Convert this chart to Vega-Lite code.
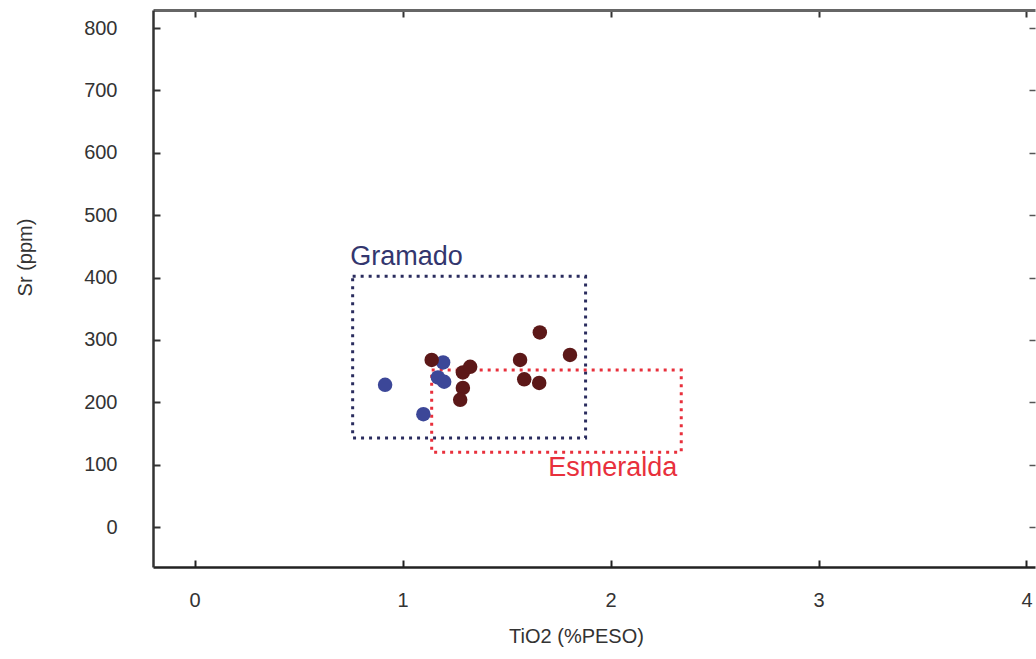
{
  "$schema": "https://vega.github.io/schema/vega-lite/v6.json",
  "autosize": "none",
  "padding": {"left": 153, "top": 10, "right": 1, "bottom": 92},
  "width": 882,
  "height": 557,
  "background": "#ffffff",
  "config": {
    "view": {"stroke": null},
    "font": "Liberation Sans",
    "axis": {"grid": false, "labelFont": "Liberation Sans", "titleFont": "Liberation Sans", "labelColor": "#333333", "titleColor": "#333333", "titleFontWeight": "normal", "labelFontSize": 20, "titleFontSize": 20}
  },
  "datasets": {
    "boxes": [
      {"grupo": "Gramado", "x1": 0.76, "x2": 1.88, "y1": 143, "y2": 402},
      {"grupo": "Esmeralda", "x1": 1.14, "x2": 2.34, "y1": 120, "y2": 252}
    ],
    "points": [
      {"serie": "Série 1", "TiO2": 0.916, "Sr": 228},
      {"serie": "Série 1", "TiO2": 1.10, "Sr": 181},
      {"serie": "Série 1", "TiO2": 1.17, "Sr": 240},
      {"serie": "Série 1", "TiO2": 1.20, "Sr": 233},
      {"serie": "Série 1", "TiO2": 1.195, "Sr": 264},
      {"serie": "Série 2", "TiO2": 1.14, "Sr": 268},
      {"serie": "Série 2", "TiO2": 1.29, "Sr": 248},
      {"serie": "Série 2", "TiO2": 1.325, "Sr": 257},
      {"serie": "Série 2", "TiO2": 1.29, "Sr": 223},
      {"serie": "Série 2", "TiO2": 1.277, "Sr": 204},
      {"serie": "Série 2", "TiO2": 1.66, "Sr": 312},
      {"serie": "Série 2", "TiO2": 1.805, "Sr": 276},
      {"serie": "Série 2", "TiO2": 1.565, "Sr": 268},
      {"serie": "Série 2", "TiO2": 1.585, "Sr": 237},
      {"serie": "Série 2", "TiO2": 1.657, "Sr": 231}
    ],
    "labels": [
      {"grupo": "Gramado", "x": 0.748, "y": 420},
      {"grupo": "Esmeralda", "x": 1.70, "y": 82}
    ]
  },
  "resolve": {"axis": {"x": "independent", "y": "independent"}},
  "layer": [
    {
      "data": {"name": "boxes"},
      "mark": {"type": "rect", "fillOpacity": 0, "strokeWidth": 3, "strokeDash": [3, 5]},
      "encoding": {
        "x": {"field": "x1", "type": "quantitative", "scale": {"domain": [-0.2, 4.041], "nice": false, "zero": false},
              "axis": {"orient": "bottom", "title": "TiO2 (%PESO)", "values": [0, 1, 2, 3, 4], "tickSize": -7, "tickColor": "#222222", "tickWidth": 2, "domainColor": "#222222", "domainWidth": 2.5, "labelPadding": 30, "titleX": 423, "titleY": 69, "titleBaseline": "middle"}},
        "x2": {"field": "x2"},
        "y": {"field": "y1", "type": "quantitative", "scale": {"domain": [-64, 829], "nice": false, "zero": false},
              "axis": {"orient": "left", "title": "Sr (ppm)", "values": [0, 100, 200, 300, 400, 500, 600, 700, 800], "tickSize": -7, "tickColor": "#333333", "tickWidth": 2, "domainColor": "#333333", "domainWidth": 2.5, "labelPadding": 43, "titleX": -128, "titleY": 247, "titleBaseline": "middle"}},
        "y2": {"field": "y2"},
        "stroke": {"field": "grupo", "type": "nominal", "scale": {"domain": ["Gramado", "Esmeralda"], "range": ["#2a2c5e", "#e8303c"]}, "legend": null}
      }
    },
    {
      "data": {"name": "points"},
      "mark": {"type": "circle", "size": 210, "opacity": 1},
      "encoding": {
        "x": {"field": "TiO2", "type": "quantitative", "scale": {"domain": [-0.2, 4.041], "nice": false, "zero": false},
              "axis": {"orient": "top", "title": null, "labels": false, "values": [0, 1, 2, 3, 4], "tickSize": -7, "tickColor": "#333333", "tickWidth": 2, "domainColor": "#666666", "domainWidth": 3}},
        "y": {"field": "Sr", "type": "quantitative", "scale": {"domain": [-64, 829], "nice": false, "zero": false},
              "axis": {"orient": "right", "title": null, "labels": false, "values": [0, 100, 200, 300, 400, 500, 600, 700, 800], "tickSize": -6, "tickColor": "#555555", "tickWidth": 1.5, "domain": false}},
        "fill": {"field": "serie", "type": "nominal", "scale": {"domain": ["Série 1", "Série 2"], "range": ["#3c4798", "#5c1818"]}, "legend": null}
      }
    },
    {
      "data": {"name": "labels"},
      "mark": {"type": "text", "align": "left", "baseline": "alphabetic", "fontSize": 27, "font": "Liberation Sans"},
      "encoding": {
        "x": {"field": "x", "type": "quantitative", "scale": {"domain": [-0.2, 4.041], "nice": false, "zero": false}, "axis": null},
        "y": {"field": "y", "type": "quantitative", "scale": {"domain": [-64, 829], "nice": false, "zero": false}, "axis": null},
        "text": {"field": "grupo"},
        "color": {"field": "grupo", "type": "nominal", "scale": {"domain": ["Gramado", "Esmeralda"], "range": ["#33366e", "#e8303c"]}, "legend": null}
      }
    }
  ]
}
